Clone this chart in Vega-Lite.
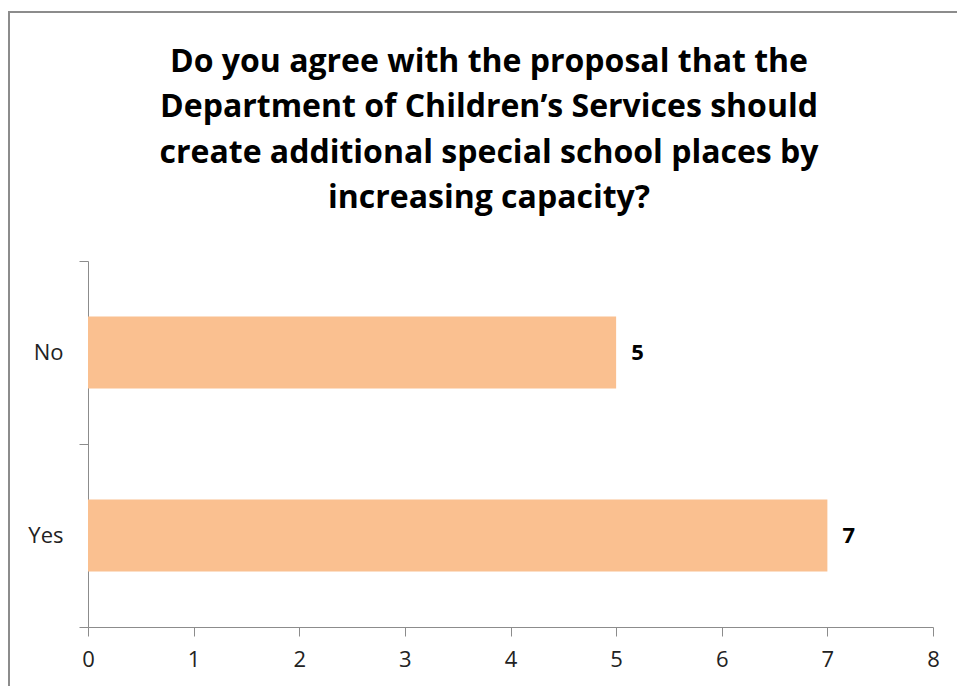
{
  "$schema": "https://vega.github.io/schema/vega-lite/v6.json",
  "width": 960,
  "height": 690,
  "autosize": {"type": "none"},
  "padding": {"left": 9, "top": 12, "right": 0, "bottom": 0},
  "background": "white",
  "config": {
    "view": {"stroke": "#8c8c8c", "strokeWidth": 2},
    "font": "Open Sans"
  },
  "title": {
    "text": [
      "Do you agree with the proposal that the",
      "Department of Children’s Services should",
      "create additional special school places by",
      "increasing capacity?"
    ],
    "anchor": "middle",
    "font": "Open Sans",
    "fontSize": 32,
    "fontWeight": "bold",
    "color": "black",
    "lineHeight": 45.5,
    "baseline": "top",
    "offset": 0,
    "dy": 214
  },
  "data": {
    "values": [
      {"answer": "No", "count": 5},
      {"answer": "Yes", "count": 7}
    ]
  },
  "encoding": {
    "y": {
      "field": "answer",
      "type": "nominal",
      "sort": ["No", "Yes"],
      "scale": {"range": [249, 615], "paddingInner": 0, "paddingOuter": 0},
      "axis": {
        "title": null,
        "offset": -79,
        "domainColor": "#8c8c8c",
        "tickColor": "#8c8c8c",
        "tickSize": 9,
        "tickBand": "extent",
        "labelFontSize": 22,
        "labelColor": "#222222",
        "labelPadding": 16,
        "labelFont": "Open Sans"
      }
    },
    "x": {
      "field": "count",
      "type": "quantitative",
      "scale": {"domain": [0, 8], "range": [79, 924], "nice": false},
      "axis": {
        "title": null,
        "offset": -75,
        "values": [0, 1, 2, 3, 4, 5, 6, 7, 8],
        "grid": false,
        "labelFlush": false,
        "domainColor": "#8c8c8c",
        "tickColor": "#8c8c8c",
        "tickSize": 9,
        "labelFontSize": 22,
        "labelColor": "#222222",
        "labelPadding": 13,
        "labelFont": "Open Sans"
      }
    }
  },
  "layer": [
    {"mark": {"type": "bar", "color": "#FAC090", "size": 72}},
    {
      "mark": {"type": "text", "align": "left", "baseline": "middle", "dx": 15, "fontSize": 22, "fontWeight": "bold", "color": "black", "font": "Open Sans"},
      "encoding": {"text": {"field": "count", "type": "quantitative"}}
    }
  ]
}
